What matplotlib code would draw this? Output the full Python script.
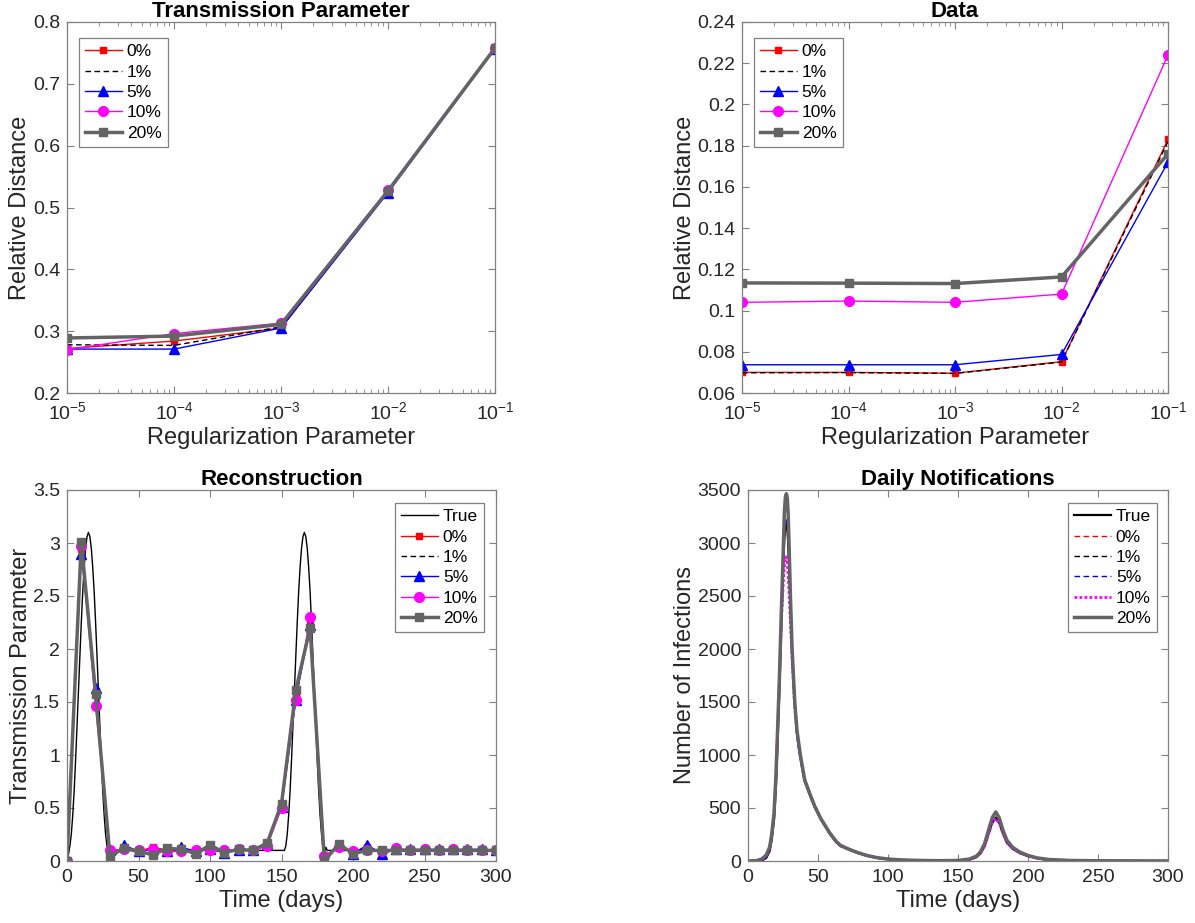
import matplotlib
matplotlib.use("Agg")
import matplotlib.pyplot as plt
from matplotlib.ticker import FuncFormatter, MultipleLocator, LogLocator, NullFormatter

plt.rcParams['font.family'] = ['Liberation Sans', 'DejaVu Sans']
plt.rcParams['mathtext.fontset'] = 'custom'
plt.rcParams['mathtext.rm'] = 'Liberation Sans'
plt.rcParams['mathtext.it'] = 'Liberation Sans:italic'
plt.rcParams['mathtext.bf'] = 'Liberation Sans:bold'

# ---------------- data ----------------
reg_params = [1e-5, 1e-4, 1e-3, 1e-2, 1e-1]
noise_labels = ['0%', '1%', '5%', '10%', '20%']

tp_dist_0 = [0.272, 0.284, 0.305, 0.526, 0.757]
tp_dist_1 = [0.278, 0.277, 0.307, 0.527, 0.758]
tp_dist_5 = [0.271, 0.271, 0.305, 0.524, 0.756]
tp_dist_10 = [0.270, 0.296, 0.313, 0.528, 0.758]
tp_dist_20 = [0.289, 0.292, 0.311, 0.527, 0.758]

data_dist_0 = [0.0700, 0.0700, 0.0696, 0.0752, 0.183]
data_dist_1 = [0.0698, 0.0699, 0.0695, 0.0750, 0.182]
data_dist_5 = [0.0737, 0.0737, 0.0737, 0.0787, 0.172]
data_dist_10 = [0.1040, 0.1046, 0.1040, 0.1080, 0.224]
data_dist_20 = [0.1134, 0.1133, 0.1131, 0.1163, 0.176]

recon_days = [0, 10, 20, 30, 40, 50, 60, 70, 80, 90, 100, 110, 120, 130, 140, 150,
              160, 170, 180, 190, 200, 210, 220, 230, 240, 250, 260, 270, 280, 290, 300]
recon_0 = [0, 2.94, 1.60, 0.02, 0.13, 0.09, 0.13, 0.10, 0.12, 0.09, 0.11, 0.09, 0.11, 0.10, 0.16, 0.52,
           1.55, 2.25, 0.02, 0.15, 0.08, 0.13, 0.08, 0.10, 0.10, 0.10, 0.10, 0.10, 0.10, 0.10, 0.10]
recon_1 = [0, 2.93, 1.61, 0.02, 0.14, 0.09, 0.12, 0.10, 0.12, 0.09, 0.11, 0.09, 0.11, 0.10, 0.16, 0.52,
           1.54, 2.24, 0.02, 0.15, 0.08, 0.13, 0.08, 0.10, 0.10, 0.10, 0.10, 0.10, 0.10, 0.10, 0.10]
recon_5 = [0, 2.90, 1.63, 0.00, 0.15, 0.09, 0.11, 0.09, 0.13, 0.09, 0.11, 0.08, 0.10, 0.10, 0.16, 0.51,
           1.52, 2.23, 0.02, 0.15, 0.07, 0.15, 0.07, 0.11, 0.11, 0.11, 0.11, 0.11, 0.11, 0.11, 0.10]
recon_10 = [0, 2.97, 1.46, 0.10, 0.11, 0.10, 0.11, 0.09, 0.09, 0.10, 0.10, 0.10, 0.11, 0.10, 0.14, 0.50,
            1.52, 2.30, 0.05, 0.13, 0.09, 0.10, 0.09, 0.12, 0.10, 0.11, 0.10, 0.11, 0.10, 0.10, 0.10]
recon_20 = [0, 3.01, 1.58, 0.05, 0.12, 0.09, 0.06, 0.12, 0.11, 0.07, 0.15, 0.08, 0.11, 0.10, 0.17, 0.54,
            1.61, 2.20, 0.00, 0.16, 0.07, 0.10, 0.10, 0.10, 0.10, 0.10, 0.10, 0.10, 0.10, 0.10, 0.10]

true_days = [0, 1, 2, 3, 4, 5, 6, 7, 8, 9, 10, 11, 12, 13, 14, 15, 16, 17, 18, 19, 20, 21, 22, 23, 24,
             25, 26, 27, 28, 29,
             152, 153, 154, 155, 156, 157, 158, 159, 160, 161, 162, 163, 164, 165, 166, 167, 168,
             169, 170, 171, 172, 173, 174, 175, 176, 177, 178, 179, 180, 181, 182, 300]
true_beta = [0, 0.06, 0.14, 0.25, 0.43, 0.66, 0.95, 1.27, 1.60, 1.93, 2.25, 2.54, 2.77, 2.95, 3.06,
             3.10, 3.06, 2.95, 2.77, 2.54, 2.25, 1.93, 1.60, 1.27, 0.95, 0.66, 0.43, 0.25, 0.14, 0.10,
             0.10, 0.14, 0.25, 0.43, 0.66, 0.95, 1.27, 1.60, 1.93, 2.25, 2.54, 2.77, 2.95, 3.06, 3.10,
             3.06, 2.95, 2.77, 2.54, 2.25, 1.93, 1.60, 1.27, 0.95, 0.66, 0.43, 0.25, 0.12, 0.07, 0.13,
             0.10, 0.10]

notif_days = [0, 6, 10, 13, 15.5, 17, 18.6, 20, 20.7, 22.4, 23.8, 25.3, 26, 26.7, 27.4, 28.1, 28.7,
              29.3, 30.3, 31.5, 33.4, 35, 37.4, 40.5, 44, 47.6, 52, 58.4, 63, 66, 72, 78.6, 85, 92,
              100, 110, 120, 135, 150, 158, 163, 166, 169, 172, 174.5, 177, 179.5, 182, 185, 189,
              194, 200, 207, 215, 230, 250, 300]
notif_true = [0, 0, 6, 28, 95, 205, 390, 720, 960, 1600, 2230, 2820, 3060, 3150, 3175, 3130, 3000,
              2790, 2400, 1960, 1480, 1210, 980, 755, 630, 510, 395, 258, 178, 142, 108, 75, 50, 30,
              17, 9, 5, 2, 3, 12, 35, 70, 140, 265, 365, 410, 360, 265, 172, 116, 76, 46, 24, 12, 4,
              1, 0]
notif_0 = [0, 0, 7, 30, 100, 210, 400, 730, 975, 1610, 2240, 2840, 3080, 3170, 3195, 3150, 3010,
           2800, 2400, 1960, 1480, 1210, 980, 755, 630, 510, 395, 258, 178, 142, 108, 75, 50, 30,
           17, 9, 5, 2, 3, 12, 35, 70, 138, 262, 360, 405, 356, 262, 170, 115, 75, 46, 24, 12, 4,
           1, 0]
notif_1 = [0, 0, 7, 31, 102, 212, 402, 733, 980, 1615, 2245, 2850, 3090, 3185, 3210, 3165, 3020,
           2805, 2400, 1955, 1475, 1205, 978, 754, 630, 510, 395, 258, 178, 142, 108, 75, 50, 30,
           17, 9, 5, 2, 3, 12, 35, 70, 138, 262, 360, 405, 356, 262, 170, 115, 75, 46, 24, 12, 4,
           1, 0]
notif_5 = [0, 0, 8, 32, 105, 215, 410, 740, 990, 1620, 2250, 2860, 3110, 3200, 3235, 3180, 3030,
           2800, 2380, 1920, 1430, 1160, 950, 745, 625, 505, 392, 256, 176, 141, 107, 74, 49, 30,
           17, 9, 5, 2, 3, 12, 36, 71, 140, 262, 362, 405, 358, 263, 171, 115, 75, 46, 24, 12, 4,
           1, 0]
notif_10 = [0, 1, 12, 45, 125, 250, 440, 800, 1060, 1690, 2250, 2650, 2780, 2850, 2870, 2820, 2700,
            2530, 2250, 1900, 1450, 1200, 980, 760, 640, 520, 402, 262, 182, 146, 110, 77, 51, 31,
            18, 10, 5, 2, 3, 12, 36, 72, 140, 262, 362, 402, 356, 264, 172, 117, 77, 47, 25, 12, 4,
            1, 0]
notif_20 = [0, 3, 20, 55, 133, 260, 449, 820, 1082, 1715, 2348, 2981, 3297, 3430, 3465, 3420, 3270,
            3000, 2500, 2000, 1500, 1230, 1000, 766, 640, 520, 400, 265, 185, 148, 112, 78, 52, 32,
            18, 10, 6, 3, 5, 18, 45, 85, 164, 300, 410, 463, 405, 295, 195, 130, 85, 52, 28, 14, 5,
            2, 0]

# ---------------- styles ----------------
GRAY = '#646464'
AX_COL = '#808080'
TXT = '#262626'
marker_styles = [
    dict(color='red', marker='s', markersize=5, lw=1.0, ls='-'),
    dict(color='black', marker=None, lw=1.0, ls=(0, (4, 2.5))),
    dict(color='blue', marker='^', markersize=7, lw=1.0, ls='-'),
    dict(color='magenta', marker='o', markersize=7, lw=1.0, ls='-'),
    dict(color=GRAY, marker='s', markersize=6, lw=2.5, ls='-'),
]

fig = plt.figure(figsize=(11.95, 9.23), dpi=100)
W, H = 1195.0, 923.0


def make_ax(x0, x1, y0, y1):
    return fig.add_axes([x0 / W, 1 - y1 / H, (x1 - x0) / W, (y1 - y0) / H])


def style_ax(ax):
    for s in ax.spines.values():
        s.set_color(AX_COL)
        s.set_linewidth(0.9)
    ax.tick_params(which='both', direction='in', top=True, right=True, colors=AX_COL,
                   labelcolor=TXT, labelsize=14)
    ax.tick_params(which='major', length=5)
    ax.tick_params(which='minor', length=3)
    ax.tick_params(axis='x', which='major', pad=6)
    ax.tick_params(axis='y', which='major', pad=5)


def legend(ax, ox, oy, right=False):
    # ox, oy: offsets in pixels from the axes corner
    bb = ax.get_position()
    wpx, hpx = bb.width * W, bb.height * H
    if right:
        loc, anchor = 'upper right', (1 - ox / wpx, 1 - oy / hpx)
    else:
        loc, anchor = 'upper left', (ox / wpx, 1 - oy / hpx)
    lg = ax.legend(loc=loc, bbox_to_anchor=anchor, borderaxespad=0, fontsize=12.5,
                   handlelength=2.1, handletextpad=0.3, labelspacing=0.3, borderpad=0.35,
                   numpoints=1, fancybox=False, framealpha=1)
    lg.get_frame().set_edgecolor(AX_COL)
    lg.get_frame().set_linewidth(0.9)
    return lg


gfmt = FuncFormatter(lambda v, p: ('%g' % round(v, 6)))


def deco(ax, title, xlabel, ylabel):
    ax.set_title(title, fontsize=16, fontweight='bold', color='black', pad=3)
    ax.set_xlabel(xlabel, fontsize=17, color=TXT, labelpad=3)
    ax.set_ylabel(ylabel, fontsize=17, color=TXT, labelpad=1)


# ---- Top-left ----
ax1 = make_ax(67, 495, 22, 393)
for lab, ys, st in zip(noise_labels, [tp_dist_0, tp_dist_1, tp_dist_5, tp_dist_10, tp_dist_20], marker_styles):
    ax1.plot(reg_params, ys, label=lab, markeredgecolor=st['color'], **st)
ax1.set_xscale('log')
ax1.set_xlim(1e-5, 1e-1)
ax1.set_ylim(0.2, 0.8)
ax1.yaxis.set_major_locator(MultipleLocator(0.1))
ax1.yaxis.set_major_formatter(gfmt)
ax1.xaxis.set_minor_locator(LogLocator(base=10, subs=range(2, 10)))
ax1.xaxis.set_minor_formatter(NullFormatter())
style_ax(ax1)
deco(ax1, 'Transmission Parameter', 'Regularization Parameter', 'Relative Distance')
legend(ax1, 12, 16)

# ---- Top-right ----
ax2 = make_ax(742, 1168, 22, 393)
for lab, ys, st in zip(noise_labels, [data_dist_0, data_dist_1, data_dist_5, data_dist_10, data_dist_20], marker_styles):
    ax2.plot(reg_params, ys, label=lab, markeredgecolor=st['color'], **st)
ax2.set_xscale('log')
ax2.set_xlim(1e-5, 1e-1)
ax2.set_ylim(0.06, 0.24)
ax2.yaxis.set_major_locator(MultipleLocator(0.02))
ax2.yaxis.set_major_formatter(gfmt)
ax2.xaxis.set_minor_locator(LogLocator(base=10, subs=range(2, 10)))
ax2.xaxis.set_minor_formatter(NullFormatter())
style_ax(ax2)
deco(ax2, 'Data', 'Regularization Parameter', 'Relative Distance')
legend(ax2, 12, 16)

# ---- Bottom-left ----
ax3 = make_ax(67, 496, 490, 861)
ax3.plot(true_days, true_beta, color='black', lw=1.0, label='True')
for lab, ys, st in zip(noise_labels, [recon_0, recon_1, recon_5, recon_10, recon_20], marker_styles):
    ax3.plot(recon_days, ys, label=lab, markeredgecolor=st['color'], **st)
ax3.set_xlim(0, 300)
ax3.set_ylim(0, 3.5)
ax3.xaxis.set_major_locator(MultipleLocator(50))
ax3.yaxis.set_major_locator(MultipleLocator(0.5))
ax3.yaxis.set_major_formatter(gfmt)
style_ax(ax3)
deco(ax3, 'Reconstruction', 'Time (days)', 'Transmission Parameter')
legend(ax3, 12, 13, right=True)

# ---- Bottom-right ----
ax4 = make_ax(748, 1168, 490, 861)
notif_styles = [
    dict(color='red', lw=1.0, ls=(0, (4, 2.5))),
    dict(color='black', lw=1.0, ls=(0, (4, 2.5))),
    dict(color='blue', lw=1.0, ls=(0, (4, 2.5))),
    dict(color='magenta', lw=2.0, ls=(0, (1, 0.8))),
    dict(color=GRAY, lw=2.5, ls='-'),
]
ax4.plot(notif_days, notif_true, color='black', lw=1.6, label='True')
for lab, ys, st in zip(noise_labels, [notif_0, notif_1, notif_5, notif_10, notif_20], notif_styles):
    ax4.plot(notif_days, ys, label=lab, **st)
ax4.set_xlim(0, 300)
ax4.set_ylim(0, 3500)
ax4.xaxis.set_major_locator(MultipleLocator(50))
ax4.yaxis.set_major_locator(MultipleLocator(500))
style_ax(ax4)
deco(ax4, 'Daily Notifications', 'Time (days)', 'Number of Infections')
legend(ax4, 11, 13, right=True)

fig.savefig('out.png', dpi=100)
